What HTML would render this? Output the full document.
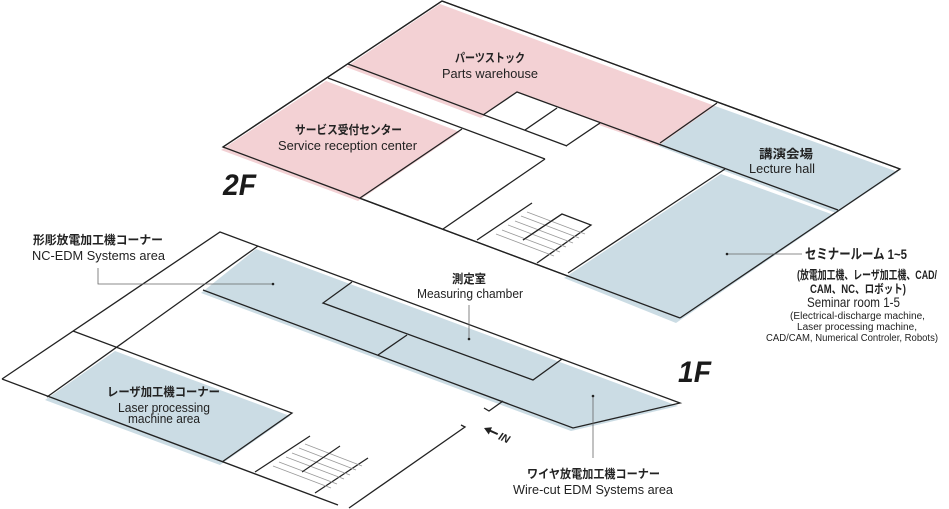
<!DOCTYPE html>
<html><head><meta charset="utf-8"><style>
html,body{margin:0;padding:0;background:#fff;}
svg{display:block;}
.jp{font-family:"Liberation Sans","Noto Sans CJK JP",sans-serif;font-weight:bold;font-size:12px;fill:#222;}
.en{font-family:"Liberation Sans",sans-serif;font-size:13px;fill:#222;}
.sm{font-family:"Liberation Sans",sans-serif;font-size:10px;fill:#222;}
.big{font-family:"Liberation Sans",sans-serif;font-weight:bold;font-style:italic;font-size:30px;fill:#1a1a1a;}
</style></head><body>
<svg width="949" height="509" viewBox="0 0 949 509" xmlns="http://www.w3.org/2000/svg">
<!-- 2F floor -->
<polygon points="442,1 900,169 680,318 223,147" fill="#fff" stroke="#222" stroke-width="1.3"/>
<g transform="translate(-2,3)">
<polygon points="348,64 442,1 717,103 660,143 517,92 483,115" fill="#f3d1d4"/>
<polygon points="223,147 328,78 462,129 360,198" fill="#f3d1d4"/>
<polygon points="717,103 900,169 838,210 660,143" fill="#cbdce4"/>
</g>
<g transform="translate(-4,5)">
<polygon points="725,169 838,210 680,318 568,273" fill="#cbdce4"/>
</g>
<polygon points="483,115 517,92 600,123 566,146" fill="#fff"/>
<g stroke="#222" stroke-width="1.3" fill="none">
<line x1="442" y1="1" x2="900" y2="169"/>
<line x1="223" y1="147" x2="442" y2="1"/>
<line x1="900" y1="169" x2="680" y2="318"/>
<line x1="223" y1="147" x2="680" y2="318"/>
<line x1="348" y1="64" x2="567" y2="146"/>
<line x1="328" y1="78" x2="545" y2="159"/>
<line x1="462" y1="129" x2="360" y2="198"/>
<line x1="545" y1="159" x2="443" y2="229"/>
<polyline points="483,115 517,92 838,210"/>
<line x1="600" y1="123" x2="566" y2="146"/>
<line x1="525" y1="130" x2="557" y2="108"/>
<line x1="717" y1="103" x2="660" y2="143"/>
<line x1="725" y1="169" x2="568" y2="273"/>
<line x1="477" y1="240" x2="532" y2="203"/>
<polyline points="523,240 562,214 591,225 537,263"/>
</g>
<g stroke="#999" stroke-width="0.8">
<line x1="527" y1="212" x2="585" y2="234"/>
<line x1="521" y1="216" x2="579" y2="238"/>
<line x1="515" y1="221" x2="573" y2="243"/>
<line x1="508" y1="225" x2="566" y2="247"/>
<line x1="502" y1="230" x2="560" y2="252"/>
<line x1="496" y1="234" x2="554" y2="256"/>
</g>
<line x1="523" y1="240" x2="562" y2="214" stroke="#222" stroke-width="1.1"/>

<!-- 1F floor -->
<polygon points="220,232 680,403 573,428 203,290 47,397 2,379" fill="#fff"/>
<g transform="translate(-2,3)">
<polygon points="258,246 680,403 573,428 203,290" fill="#cbdce4"/>
<polygon points="117,348 292,413 222,462 47,397" fill="#cbdce4"/>
</g>
<g stroke="#222" stroke-width="1.3" fill="none">
<polyline points="2,379 220,232 680,403 573,428 203,290"/>
<line x1="258" y1="246" x2="47" y2="397"/>
<polyline points="73,331 292,413 222,462"/>
<line x1="2" y1="379" x2="338" y2="505"/>
<polyline points="349,508 465,427 461,425"/>
<polyline points="484,408 489,411 503,401"/>
<polyline points="352,282 323,303 533,380 562,359"/>
<line x1="407" y1="335" x2="378" y2="355"/>
<line x1="255" y1="472" x2="310" y2="436"/>
<line x1="315" y1="493" x2="368" y2="458"/>
</g>
<g stroke="#999" stroke-width="0.8">
<line x1="305" y1="444" x2="362" y2="466"/>
<line x1="299" y1="448" x2="356" y2="470"/>
<line x1="292" y1="453" x2="350" y2="475"/>
<line x1="286" y1="457" x2="344" y2="479"/>
<line x1="279" y1="462" x2="337" y2="484"/>
<line x1="273" y1="466" x2="331" y2="488"/>
</g>
<line x1="302" y1="472" x2="340" y2="446" stroke="#222" stroke-width="1.1"/>

<!-- leaders -->
<g stroke="#666" stroke-width="0.8" fill="none">
<line x1="727" y1="254" x2="802" y2="254"/>
<polyline points="98,268 98,284 273,284"/>
<line x1="469" y1="305" x2="469" y2="339"/>
<line x1="593" y1="396" x2="593" y2="458"/>
</g>
<g fill="#222">
<circle cx="727" cy="254" r="1.3"/>
<circle cx="273" cy="284" r="1.3"/>
<circle cx="469" cy="339" r="1.3"/>
<circle cx="593" cy="396" r="1.3"/>
</g>

<!-- IN arrow -->
<g transform="translate(484,428) rotate(24)">
<line x1="3" y1="0" x2="15" y2="0" stroke="#222" stroke-width="2"/>
<polygon points="0,0 7,-4 7,4" fill="#222"/>
<text x="17" y="4.5" style="font-family:'Liberation Sans',sans-serif;font-weight:bold;font-style:italic;font-size:11px;fill:#222">IN</text>
</g>

<!-- labels -->
<text class="big" x="223" y="195" textLength="33" lengthAdjust="spacingAndGlyphs">2F</text>
<text class="big" x="678" y="382" textLength="33" lengthAdjust="spacingAndGlyphs">1F</text>

<text class="jp" x="455" y="62" textLength="70" lengthAdjust="spacingAndGlyphs">パーツストック</text>
<text class="en" x="442" y="78" textLength="96" lengthAdjust="spacingAndGlyphs">Parts warehouse</text>

<text class="jp" x="295" y="134" textLength="107" lengthAdjust="spacingAndGlyphs">サービス受付センター</text>
<text class="en" x="278" y="150" textLength="139" lengthAdjust="spacingAndGlyphs">Service reception center</text>

<text class="jp" x="759" y="158" textLength="54" lengthAdjust="spacingAndGlyphs">講演会場</text>
<text class="en" x="749" y="173" textLength="66" lengthAdjust="spacingAndGlyphs">Lecture hall</text>

<text class="jp" x="805" y="259" style="font-size:14px" textLength="102" lengthAdjust="spacingAndGlyphs">セミナールーム 1~5</text>
<text class="jp" x="797" y="279" textLength="140" lengthAdjust="spacingAndGlyphs">(放電加工機、レーザ加工機、CAD/</text>
<text class="jp" x="810" y="293" textLength="96" lengthAdjust="spacingAndGlyphs">CAM、NC、ロボット)</text>
<text class="en" x="807" y="307" style="font-size:14px" textLength="93" lengthAdjust="spacingAndGlyphs">Seminar room 1-5</text>
<text class="sm" x="790" y="319" textLength="135" lengthAdjust="spacingAndGlyphs">(Electrical-discharge machine,</text>
<text class="sm" x="797" y="330" textLength="120" lengthAdjust="spacingAndGlyphs">Laser processing machine,</text>
<text class="sm" x="766" y="341" textLength="172" lengthAdjust="spacingAndGlyphs">CAD/CAM, Numerical Controler, Robots)</text>

<text class="jp" x="33" y="244" textLength="130" lengthAdjust="spacingAndGlyphs">形彫放電加工機コーナー</text>
<text class="en" x="32" y="260" textLength="133" lengthAdjust="spacingAndGlyphs">NC-EDM Systems area</text>

<text class="jp" x="452" y="283" textLength="34" lengthAdjust="spacingAndGlyphs">測定室</text>
<text class="en" x="417" y="298" textLength="106" lengthAdjust="spacingAndGlyphs">Measuring chamber</text>

<text class="jp" x="107" y="396" textLength="113" lengthAdjust="spacingAndGlyphs">レーザ加工機コーナー</text>
<text class="en" x="118" y="412" textLength="92" lengthAdjust="spacingAndGlyphs">Laser processing</text>
<text class="en" x="128" y="423" textLength="72" lengthAdjust="spacingAndGlyphs">machine area</text>

<text class="jp" x="527" y="478" textLength="133" lengthAdjust="spacingAndGlyphs">ワイヤ放電加工機コーナー</text>
<text class="en" x="513" y="494" textLength="160" lengthAdjust="spacingAndGlyphs">Wire-cut EDM Systems area</text>
</svg>
</body></html>
